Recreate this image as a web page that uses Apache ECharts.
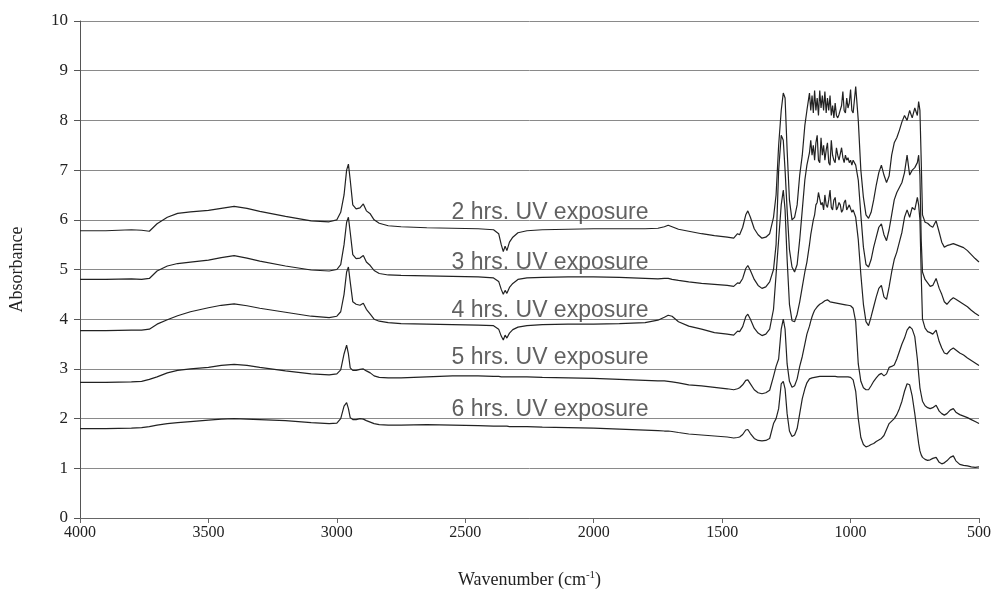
<!DOCTYPE html>
<html>
<head>
<meta charset="utf-8">
<script src="https://cdn.jsdelivr.net/npm/echarts@6/dist/echarts.min.js"></script>
<style>
html,body{margin:0;padding:0;background:#fff;}
#chart{width:998px;height:602px;}
</style>
</head>
<body>
<div id="chart"></div>
<script>
// Wavenumber grid (cm-1), shared by all spectra
const wavenumbers = [
  4000, 3900, 3800, 3760, 3730, 3700, 3660, 3620, 3570, 3500, 3450, 3400, 3350, 3300, 3200, 3100, 3030,
  3000, 2985, 2972, 2962, 2955, 2948, 2938, 2925, 2910, 2897, 2885, 2870, 2855, 2835, 2800, 2750,
  2650, 2550, 2450, 2390, 2370, 2360, 2352, 2345, 2338, 2328, 2315, 2295, 2260, 2200, 2100, 2000, 1900, 1800, 1750, 1725, 1710, 1695, 1670, 1630, 1580, 1530,
  1480, 1455, 1440, 1432, 1420, 1408, 1400, 1390, 1375, 1360, 1345, 1330, 1315, 1300, 1290, 1280, 1270, 1262, 1255, 1247, 1238, 1228, 1218, 1208, 1198, 1188, 1178, 1170,
  1160, 1155, 1150, 1145, 1140, 1135, 1130, 1125, 1120, 1115, 1110, 1105, 1100, 1095, 1090, 1085, 1080, 1075, 1070, 1065, 1060, 1055, 1050, 1045, 1040, 1035, 1030, 1025, 1020, 1015, 1010, 1005, 1000, 995, 990,
  980, 970, 960, 950, 940, 930, 920, 910, 900, 890, 880, 870, 860, 850, 840, 830, 820, 810, 800, 790, 780, 770, 760, 750, 740, 735, 730, 725, 720, 710, 700,
  690, 680, 667, 655, 645, 635, 625, 612, 600, 590, 575, 560, 545, 530, 515, 500
];

const abs2h = [
  5.78, 5.78, 5.80, 5.79, 5.77, 5.92, 6.05, 6.13, 6.16, 6.19, 6.23, 6.27, 6.23, 6.17, 6.07, 5.98, 5.96,
  6.00, 6.15, 6.50, 7.00, 7.12, 6.80, 6.30, 6.22, 6.24, 6.32, 6.18, 6.12, 6.00, 5.93, 5.88, 5.86,
  5.84, 5.83, 5.82, 5.80, 5.72, 5.50, 5.36, 5.47, 5.38, 5.55, 5.65, 5.74, 5.78, 5.80, 5.81, 5.82, 5.82, 5.82, 5.83, 5.86, 5.89, 5.86, 5.81, 5.77, 5.72, 5.68,
  5.65, 5.63, 5.72, 5.70, 5.85, 6.10, 6.18, 6.05, 5.82, 5.70, 5.63, 5.65, 5.72, 6.05, 6.50, 7.50, 8.20, 8.55, 8.45, 7.40, 6.40, 6.00, 6.05, 6.30, 6.90, 7.30, 7.90, 8.20,
  8.55, 8.20, 8.50, 8.15, 8.60, 8.20, 8.45, 8.10, 8.60, 8.25, 8.50, 8.20, 8.58, 8.15, 8.45, 8.20, 8.50, 8.10, 8.30, 8.05, 8.35, 8.10, 8.05, 8.12, 8.10, 8.30, 8.58, 8.20, 8.15, 8.45, 8.25, 8.35, 8.62, 8.20, 8.15,
  8.68, 8.00, 7.00, 6.45, 6.10, 6.03, 6.15, 6.40, 6.70, 6.95, 7.10, 6.90, 6.75, 6.88, 7.30, 7.55, 7.65, 7.80, 7.97, 8.10, 8.00, 8.20, 8.05, 8.25, 8.10, 8.38, 8.20, 7.20, 6.10, 5.95, 5.93,
  5.88, 5.85, 5.98, 5.75, 5.55, 5.45, 5.48, 5.50, 5.52, 5.50, 5.47, 5.44, 5.38, 5.30, 5.22, 5.15
];

const abs3h = [
  4.80, 4.80, 4.81, 4.80, 4.82, 4.97, 5.07, 5.12, 5.15, 5.19, 5.24, 5.28, 5.23, 5.17, 5.07, 4.99, 4.97,
  5.00, 5.10, 5.50, 5.95, 6.05, 5.75, 5.30, 5.22, 5.23, 5.28, 5.15, 5.08, 4.98, 4.92, 4.89, 4.88,
  4.87, 4.86, 4.85, 4.83, 4.76, 4.60, 4.50, 4.58, 4.52, 4.64, 4.72, 4.80, 4.83, 4.84, 4.85, 4.85, 4.84, 4.82, 4.81, 4.82, 4.82, 4.80, 4.78, 4.75, 4.72, 4.70,
  4.68, 4.66, 4.73, 4.72, 4.82, 5.02, 5.08, 4.98, 4.80, 4.68, 4.62, 4.65, 4.75, 5.00, 5.50, 7.00, 7.70, 7.60, 7.00, 6.20, 5.40, 5.05, 4.95, 5.10, 5.60, 6.20, 6.80, 7.10,
  7.35, 7.60, 7.30, 7.50, 7.20, 7.55, 7.70, 7.20, 7.15, 7.65, 7.30, 7.50, 7.20, 7.40, 7.55, 7.15, 7.10, 7.60, 7.30, 7.20, 7.15, 7.45, 7.30, 7.20, 7.20, 7.45, 7.25, 7.15, 7.30, 7.20, 7.25, 7.15, 7.20, 7.10, 7.20,
  7.10, 6.80, 6.10, 5.45, 5.10, 5.05, 5.20, 5.45, 5.65, 5.85, 5.92, 5.70, 5.58, 5.80, 6.10, 6.40, 6.55, 6.65, 6.75, 6.95, 7.30, 6.90, 7.00, 7.05, 7.15, 7.30, 6.90, 5.60, 4.95, 4.80, 4.73,
  4.66, 4.68, 4.82, 4.62, 4.50, 4.35, 4.30, 4.38, 4.43, 4.40, 4.35, 4.30, 4.25, 4.18, 4.12, 4.07
];

const abs4h = [
  3.77, 3.77, 3.78, 3.78, 3.80, 3.90, 3.99, 4.07, 4.15, 4.23, 4.28, 4.31, 4.27, 4.22, 4.14, 4.06, 4.03,
  4.06, 4.15, 4.50, 4.95, 5.05, 4.75, 4.35, 4.30, 4.28, 4.32, 4.20, 4.10, 4.00, 3.96, 3.93, 3.91,
  3.90, 3.89, 3.88, 3.87, 3.80, 3.66, 3.58, 3.68, 3.62, 3.72, 3.79, 3.84, 3.87, 3.89, 3.90, 3.90, 3.91, 3.93, 3.98, 4.04, 4.08, 4.06, 3.95, 3.86, 3.80, 3.73,
  3.70, 3.68, 3.76, 3.75, 3.85, 4.05, 4.10, 4.00, 3.82, 3.72, 3.67, 3.70, 3.80, 4.20, 4.90, 5.60, 6.30, 6.60, 6.20, 5.20, 4.30, 3.97, 3.95, 4.10, 4.35, 4.65, 4.95, 5.15,
  5.50, 5.70, 5.85, 6.00, 6.10, 6.30, 6.35, 6.55, 6.42, 6.30, 6.35, 6.20, 6.50, 6.30, 6.25, 6.40, 6.60, 6.25, 6.20, 6.40, 6.45, 6.20, 6.25, 6.35, 6.30, 6.15, 6.20, 6.35, 6.40, 6.20, 6.25, 6.30, 6.30, 6.15, 6.20,
  6.05, 5.60, 4.90, 4.30, 3.95, 3.87, 4.05, 4.25, 4.45, 4.62, 4.68, 4.45, 4.40, 4.65, 4.95, 5.20, 5.35, 5.55, 5.75, 6.05, 6.20, 6.05, 6.25, 6.20, 6.45, 6.30, 6.00, 4.90, 4.00, 3.82, 3.75,
  3.73, 3.70, 3.78, 3.55, 3.42, 3.32, 3.30, 3.38, 3.42, 3.38, 3.32, 3.28, 3.22, 3.17, 3.12, 3.07
];

const abs5h = [
  2.73, 2.73, 2.74, 2.75, 2.79, 2.84, 2.92, 2.97, 3.00, 3.03, 3.07, 3.09, 3.07, 3.03, 2.96, 2.90, 2.88,
  2.90, 2.98, 3.30, 3.48, 3.30, 3.02, 2.97, 2.97, 2.99, 3.00, 2.96, 2.92, 2.86, 2.83, 2.82, 2.82,
  2.84, 2.86, 2.86, 2.85, 2.85, 2.84, 2.84, 2.84, 2.84, 2.84, 2.84, 2.84, 2.84, 2.83, 2.82, 2.81, 2.79, 2.77, 2.76, 2.76, 2.75, 2.74, 2.72, 2.68, 2.66, 2.63,
  2.60, 2.58, 2.60, 2.62, 2.68, 2.77, 2.78, 2.70, 2.58, 2.52, 2.50, 2.52, 2.57, 2.85, 3.05, 3.20, 3.80, 4.00, 3.80, 3.10, 2.75, 2.63, 2.66, 2.80, 3.05, 3.25, 3.50, 3.70,
  3.86, 3.96, 4.05, 4.12, 4.18, 4.22, 4.25, 4.28, 4.30, 4.32, 4.33, 4.35, 4.37, 4.38, 4.39, 4.37, 4.35, 4.35, 4.34, 4.34, 4.33, 4.33, 4.32, 4.32, 4.31, 4.31, 4.30, 4.30, 4.29, 4.29, 4.28, 4.28, 4.27, 4.26, 4.22,
  3.95, 3.10, 2.75, 2.62, 2.58, 2.58, 2.66, 2.75, 2.82, 2.88, 2.91, 2.86, 2.90, 3.03, 3.05, 3.08, 3.20, 3.35, 3.50, 3.62, 3.78, 3.85, 3.80, 3.65, 3.20, 2.90, 2.62, 2.48, 2.35, 2.26, 2.22,
  2.20, 2.22, 2.27, 2.15, 2.10, 2.07, 2.10, 2.17, 2.20, 2.13, 2.08, 2.05, 2.02, 1.98, 1.94, 1.90
];

const abs6h = [
  1.80, 1.80, 1.81, 1.82, 1.84, 1.87, 1.90, 1.92, 1.94, 1.97, 1.99, 2.00, 1.99, 1.98, 1.96, 1.92, 1.90,
  1.91, 2.00, 2.25, 2.32, 2.20, 2.02, 1.98, 1.98, 2.00, 1.99, 1.96, 1.93, 1.90, 1.88, 1.87, 1.87,
  1.88, 1.87, 1.86, 1.85, 1.85, 1.85, 1.85, 1.85, 1.85, 1.84, 1.84, 1.84, 1.84, 1.83, 1.82, 1.81, 1.79, 1.77, 1.76, 1.75, 1.75, 1.74, 1.72, 1.69, 1.67, 1.65,
  1.63, 1.61, 1.62, 1.63, 1.68, 1.77, 1.78, 1.70, 1.60, 1.56, 1.55, 1.56, 1.60, 1.90, 2.00, 2.20, 2.70, 2.75, 2.60, 2.10, 1.75, 1.64, 1.67, 1.80, 2.10, 2.40, 2.60, 2.72,
  2.80, 2.81, 2.82, 2.83, 2.83, 2.84, 2.84, 2.85, 2.85, 2.85, 2.85, 2.85, 2.85, 2.85, 2.85, 2.85, 2.85, 2.85, 2.85, 2.85, 2.85, 2.84, 2.84, 2.84, 2.84, 2.84, 2.84, 2.84, 2.84, 2.84, 2.84, 2.83, 2.83, 2.82, 2.78,
  2.55, 2.00, 1.62, 1.48, 1.43, 1.45, 1.48, 1.50, 1.54, 1.57, 1.60, 1.66, 1.78, 1.90, 1.95, 2.00, 2.08, 2.20, 2.35, 2.55, 2.70, 2.68, 2.45, 2.10, 1.70, 1.50, 1.35, 1.27, 1.22, 1.18, 1.16,
  1.17, 1.20, 1.22, 1.12, 1.09, 1.11, 1.15, 1.22, 1.25, 1.15, 1.08, 1.06, 1.05, 1.03, 1.02, 1.03
];

const seriesNames = ['2 hrs. UV exposure', '3 hrs. UV exposure', '4 hrs. UV exposure', '5 hrs. UV exposure', '6 hrs. UV exposure'];
const seriesValues = [abs2h, abs3h, abs4h, abs5h, abs6h];

// annotation anchor (data coordinates) for each curve label
const labelWn = [2170, 2170, 2170, 2170, 2170];
const labelAbs = [6.14, 5.13, 4.18, 3.22, 2.17];

const xTicks = [4000, 3500, 3000, 2500, 2000, 1500, 1000, 500];

const chart = echarts.init(document.getElementById('chart'), null, {renderer: 'canvas'});

const lineSeries = seriesValues.map((vals, i) => ({
  name: seriesNames[i],
  type: 'line',
  showSymbol: false,
  symbol: 'none',
  smooth: false,
  lineStyle: {color: '#222', width: 1.2},
  data: wavenumbers.map((w, k) => [w, vals[k]]),
  z: 3
}));

const labelSeries = {
  type: 'scatter',
  symbolSize: 0,
  silent: true,
  data: seriesNames.map((n, i) => ({value: [labelWn[i], labelAbs[i]], name: n})),
  label: {
    show: true,
    position: 'inside',
    formatter: p => p.name,
    fontFamily: 'Liberation Sans',
    fontSize: 23,
    color: '#3a3a3a'
  },
  z: 4
};

chart.setOption({
  animation: false,
  backgroundColor: '#ffffff',
  grid: {left: 78, right: 19, top: 21, bottom: 84, containLabel: false},
  xAxis: {
    type: 'value',
    min: 500,
    max: 4000,
    interval: 500,
    inverse: true,
    axisLine: {show: true, lineStyle: {color: '#666', width: 1}},
    axisTick: {show: true, inside: false, length: 5, lineStyle: {color: '#666'}},
    splitLine: {show: false},
    axisLabel: {
      fontFamily: 'Liberation Serif', fontSize: 16, color: '#222', margin: 7,
      formatter: v => xTicks.includes(v) ? String(v) : ''
    },
    name: 'Wavenumber (cm{sup|-1})',
    nameLocation: 'middle',
    nameGap: 52,
    nameTextStyle: {
      fontFamily: 'Liberation Serif', fontSize: 18, color: '#222',
      rich: {sup: {fontFamily: 'Liberation Serif', fontSize: 11, color: '#222', verticalAlign: 'top', padding: [0, 0, 10, 0]}}
    }
  },
  yAxis: {
    type: 'value',
    min: 0,
    max: 10,
    interval: 1,
    axisLine: {show: true, lineStyle: {color: '#555', width: 1}},
    axisTick: {show: true, inside: false, length: 6, lineStyle: {color: '#555'}},
    splitLine: {show: true, lineStyle: {color: '#8a8a8a', width: 1}},
    axisLabel: {fontFamily: 'Liberation Serif', fontSize: 17, color: '#222', margin: 12},
    name: 'Absorbance',
    nameLocation: 'middle',
    nameGap: 54,
    nameTextStyle: {fontFamily: 'Liberation Serif', fontSize: 18, color: '#222'}
  },
  series: lineSeries.concat([labelSeries])
});
</script>
</body>
</html>
